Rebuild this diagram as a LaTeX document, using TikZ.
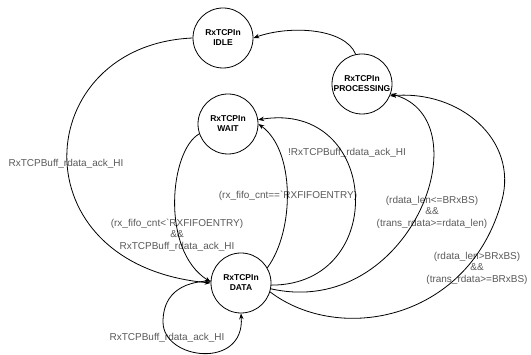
\documentclass[tikz,border=0pt]{standalone}
\usepackage{fontspec}
\newfontfamily\lblfont{Liberation Sans}
\usetikzlibrary{arrows.meta}
\begin{document}
\begin{tikzpicture}[x=1pt,y=-1pt,
  state/.style={circle,draw,line width=0.8pt,minimum size=60pt,inner sep=0pt,align=center,
    font=\lblfont\bfseries\fontsize{8.5}{10}\selectfont},
  lbl/.style={align=center,text=black!65,inner sep=0pt,font=\lblfont\fontsize{10}{11.5}\selectfont},
  edge/.style={line width=0.8pt,-{Stealth[length=6pt,width=4.5pt]}}]
\useasboundingbox (0,0) rectangle (531,355);
\node[state] (idle) at (223,38) {RxTCPIn\\IDLE};
\node[state] (proc) at (362,84) {RxTCPIn\\PROCESSING};
\node[state] (wait) at (228,124) {RxTCPIn\\WAIT};
\node[state] (data) at (241,283) {RxTCPIn\\DATA};

\node[lbl] (l1) at (66,164) {RxTCPBuff\_rdata\_ack\_HI};
\node[lbl] (l2) at (177,235) {(rx\_fifo\_cnt<\textasciigrave RXFIFOENTRY)\\\&\&\\RxTCPBuff\_rdata\_ack\_HI};
\node[lbl] (l3) at (288,196) {(rx\_fifo\_cnt==\textasciigrave RXFIFOENTRY)};
\node[lbl] (l4) at (347,153) {!RxTCPBuff\_rdata\_ack\_HI};
\node[lbl] (l5) at (432,212) {(rdata\_len<=BRxBS)\\\&\&\\(trans\_rdata>=rdata\_len)};
\node[lbl] (l6) at (477,268) {(rdata\_len>BRxBS)\\\&\&\\(trans\_rdata>=BRxBS)};
\node[lbl] (l7) at (167,338) {RxTCPBuff\_rdata\_ack\_HI};

% processing -> idle
\draw[edge] (proc.102) .. controls (345,28) and (290,25) .. (idle.east);
% idle -> data (big left arc)
\draw[edge] (idle.west) .. controls (30,45) and (15,265) .. (data.180);
% wait -> data
\draw[edge] (wait.199) .. controls (170,150) and (160,250) .. (data.178);
% data -> wait inner
\draw[edge] (data.30) .. controls (295,230) and (295,150) .. (wait.east);
% data -> wait outer
\draw[edge] (data.-4) .. controls (390,285) and (380,100) .. (wait.8);
% data -> processing inner
\draw[edge] (data.-11) .. controls (410,320) and (485,120) .. (proc.-19);
% data -> processing outer
\draw[edge] (data.-17) .. controls (340,345) and (470,320) .. (502,200)
  .. controls (518,140) and (460,90) .. (proc.-23);
% self loop
\draw[edge] (data.176) .. controls (170,282) and (163,305) .. (163,322)
  .. controls (163,360) and (245,370) .. (data.south);
\end{tikzpicture}
\end{document}
